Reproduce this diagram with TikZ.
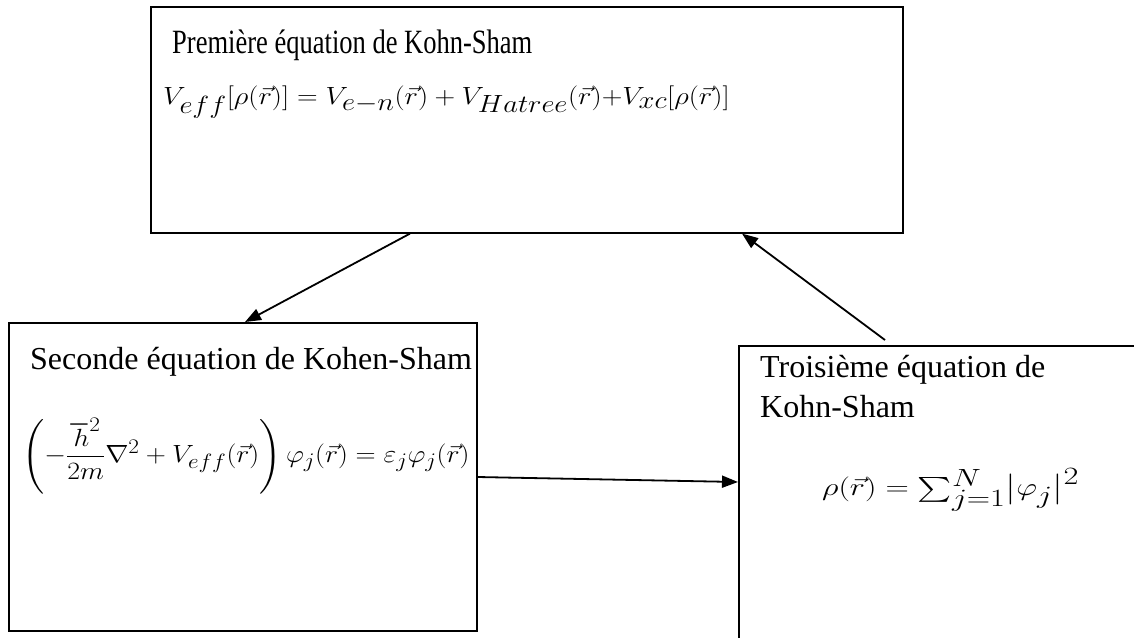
\documentclass[tikz,border=0pt]{standalone}
\usepackage{fontspec}
\setmainfont{Liberation Serif}
\usepackage{amsmath}
\usetikzlibrary{arrows.meta,positioning}
\tikzset{
  eqbox/.style={rectangle, draw=black, line width=1.6pt, anchor=north west, inner sep=0pt},
  eqtitle/.style={anchor=west, inner sep=0pt, font=\fontsize{32}{40}\selectfont, align=left},
  eqmath/.style={anchor=west, inner sep=0pt, font=\fontsize{#1}{#1}\selectfont},
  eqmath/.default=30,
  flowarrow/.style={-{Triangle[length=16pt,width=12pt]}, line width=1.8pt},
}

\begin{document}
\begin{tikzpicture}[x=1pt, y=-1pt]
  \clip (0,0) rectangle (1134,637);
  % the three boxes
  \node[eqbox, minimum width=752pt, minimum height=226pt] (premiere) at (150,6) {};
  \node[eqbox, minimum width=468pt, minimum height=308pt] (seconde) at (8,322) {};
  \node[eqbox, minimum width=420pt, minimum height=320pt] (troisieme) at (738,345) {};
  % texts
  \node[eqtitle, font=\fontsize{34}{40}\selectfont] (premtitle) at (172,45) {\scalebox{0.78}[1]{Première équation de Kohn-Sham}};
  \node[eqmath=34] (premeq) at (163,102) {\scalebox{1.15}[1]{$V_{eff}[\rho(\vec{r})] = V_{e-n}(\vec{r}) + V_{Hatree}(\vec{r}){+}V_{xc}[\rho(\vec{r})]$}};
  \node[eqtitle] (sectitle) at (30,362) {Seconde équation de Kohen-Sham};
  \node[eqmath=30] (seceq) at (22,456) {\scalebox{1.12}[1]{$\left(-\dfrac{\hbar^2}{2m}\nabla^2 + V_{eff}(\vec{r})\right)\varphi_j(\vec{r}) = \varepsilon_j\varphi_j(\vec{r})$}};
  \node[eqtitle, anchor=north west] (troistitle) at (760,355) {Troisième équation de\\Kohn-Sham};
  \node[eqmath=34] (troiseq) at (822,490) {\scalebox{1.3}[1]{$\rho(\vec{r}) = \sum_{j=1}^{N}\bigl|\varphi_j\bigr|^2$}};
  % connectors
  \coordinate (retour) at (885,340);
  \draw[flowarrow] ([xshift=260pt]premiere.south west) -- ([xshift=237pt]seconde.north west);
  \draw[flowarrow] (retour) -- ([xshift=592pt]premiere.south west);
  \draw[flowarrow] ([yshift=-155pt]seconde.north east) -- ([yshift=-137pt]troisieme.north west);
\end{tikzpicture}
\end{document}
